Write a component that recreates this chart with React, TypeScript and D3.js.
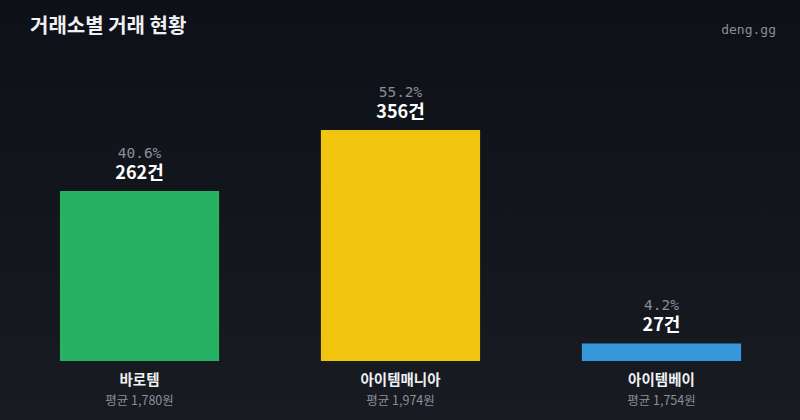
import { useEffect, useRef } from 'react';
import * as d3 from 'd3';

const exchanges = ['바로템', '아이템매니아', '아이템베이'];
const counts = [262, 356, 27];
const shares = ['40.6%', '55.2%', '4.2%'];
const avgPrices = [1780, 1974, 1754];
const barColors = ['#27b163', '#f1c40f', '#3498db'];

const W = 800;
const H = 420;
const KR = '"Noto Sans CJK KR", "Noto Sans", sans-serif';
const MONO = '"DejaVu Sans Mono", monospace';

export default function App() {
    const svgRef = useRef<SVGSVGElement>(null);

    useEffect(() => {
        if (!svgRef.current) return;
        const root = d3.select(svgRef.current);
        root.selectAll('*').remove();

        // Background gradient
        const grad = root.append('defs').append('linearGradient')
            .attr('id', 'bg').attr('x1', 0).attr('y1', 0).attr('x2', 0).attr('y2', 1);
        grad.append('stop').attr('offset', '0%').attr('stop-color', '#0d1016');
        grad.append('stop').attr('offset', '100%').attr('stop-color', '#181b22');
        root.append('rect').attr('width', W).attr('height', H).attr('fill', 'url(#bg)');

        // Title
        root.append('text')
            .attr('x', 30).attr('y', 33)
            .attr('fill', '#eef0f3')
            .attr('font-family', KR)
            .attr('font-size', 20)
            .attr('font-weight', 700)
            .text('거래소별 거래 현황');

        root.append('text')
            .attr('x', 776).attr('y', 34)
            .attr('text-anchor', 'end')
            .attr('fill', '#8a8f98')
            .attr('font-family', MONO)
            .attr('font-size', 13)
            .text('deng.gg');

        // Scales
        const x = d3.scaleBand<string>()
            .domain(exchanges)
            .range([20, 781])
            .paddingInner(0.39)
            .paddingOuter(0.153);

        const baseY = 361;
        const y = d3.scaleLinear()
            .domain([0, d3.max(counts) || 0])
            .range([baseY, 130]);

        const g = root.append('g');
        const items = exchanges.map((name, i) => ({
            name, count: counts[i], share: shares[i], avg: avgPrices[i], color: barColors[i],
        }));

        const groups = g.selectAll('g.bar').data(items).enter().append('g').attr('class', 'bar');

        groups.append('rect')
            .attr('x', d => x(d.name) || 0)
            .attr('y', d => y(d.count))
            .attr('width', x.bandwidth())
            .attr('height', d => baseY - y(d.count))
            .attr('fill', d => d.color);

        const cx = (d: { name: string }) => (x(d.name) || 0) + x.bandwidth() / 2;

        // share (%) above the count
        groups.append('text')
            .attr('x', cx)
            .attr('y', d => y(d.count) - 33)
            .attr('text-anchor', 'middle')
            .attr('fill', '#8a8f98')
            .attr('font-family', MONO)
            .attr('font-size', 14.5)
            .text(d => d.share);

        groups.append('text')
            .attr('x', cx)
            .attr('y', d => y(d.count) - 12)
            .attr('text-anchor', 'middle')
            .attr('fill', '#ffffff')
            .attr('font-family', KR)
            .attr('font-size', 18)
            .attr('font-weight', 700)
            .text(d => `${d.count}건`);

        groups.append('text')
            .attr('x', cx)
            .attr('y', 385)
            .attr('text-anchor', 'middle')
            .attr('fill', '#eef0f3')
            .attr('font-family', KR)
            .attr('font-size', 14.5)
            .attr('font-weight', 700)
            .text(d => d.name);

        groups.append('text')
            .attr('x', cx)
            .attr('y', 405)
            .attr('text-anchor', 'middle')
            .attr('fill', '#8a8f98')
            .attr('font-family', KR)
            .attr('font-size', 12.5)
            .text(d => `평균 ${d3.format(',')(d.avg)}원`);
    }, []);

    return (
        <svg
            ref={svgRef}
            width={W}
            height={H}
            style={{ position: 'absolute', left: 0, top: 0, display: 'block' }}
        />
    );
}
